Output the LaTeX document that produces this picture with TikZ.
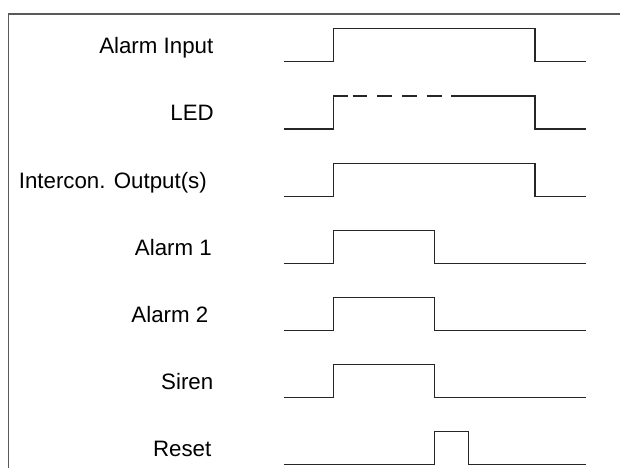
\documentclass[tikz,border=0pt]{standalone}
\usepackage{fontspec}
\setmainfont{Liberation Sans}
\begin{document}
\begin{tikzpicture}[x=1pt,y=-1pt,
  wave/.style={draw=black!85,line width=1.1pt,line join=miter},
  frameline/.style={draw=black!65,line width=1.3pt},
  lbl/.style={anchor=base east,inner sep=0pt,font=\fontsize{22.3}{26}\selectfont}]
\useasboundingbox (0,0) rectangle (620,468);
\fill[white] (0,0) rectangle (620,468);
\draw[frameline] (620,14) -- (8.5,14) -- (8.5,468);
% x positions
\def\xs{283.5}\def\xr{333.5}\def\xl{535}\def\xm{434.5}\def\xe{585.5}\def\xq{468.5}
% label nodes
\node[lbl] (l1) at (213.5,53.2) {Alarm Input};
\node[lbl] (l2) at (214,121) {LED};
\node[lbl] (l3) at (207,188.3) {Intercon. Output(s)};
\node[lbl] (l4) at (212,255.4) {Alarm 1};
\node[lbl] (l5) at (208.5,322.6) {Alarm 2};
\node[lbl] (l6) at (213.5,389.7) {Siren};
\node[lbl] (l7) at (211.5,456.7) {Reset};
% Alarm Input
\draw[wave] (\xs,61.7) -- (\xr,61.7) -- (\xr,28.7) -- (\xl,28.7) -- (\xl,61.7) -- (\xe,61.7);
% LED
\draw[wave] (\xs,129) -- (\xr,129) -- (\xr,96) -- (347.7,96);
\draw[wave,dash pattern=on 14.7pt off 10pt] (352.7,96) -- (446,96);
\draw[wave] (451,96) -- (\xl,96) -- (\xl,129) -- (\xe,129);
% Intercon
\draw[wave] (\xs,196.3) -- (\xr,196.3) -- (\xr,163.3) -- (\xl,163.3) -- (\xl,196.3) -- (\xe,196.3);
% Alarm 1
\draw[wave] (\xs,263.5) -- (\xr,263.5) -- (\xr,230.3) -- (\xm,230.3) -- (\xm,263.5) -- (\xe,263.5);
% Alarm 2
\draw[wave] (\xs,330.7) -- (\xr,330.7) -- (\xr,297.5) -- (\xm,297.5) -- (\xm,330.7) -- (\xe,330.7);
% Siren
\draw[wave] (\xs,397.7) -- (\xr,397.7) -- (\xr,364.3) -- (\xm,364.3) -- (\xm,397.7) -- (\xe,397.7);
% Reset
\draw[wave] (\xs,464.7) -- (\xm,464.7) -- (\xm,431.7) -- (\xq,431.7) -- (\xq,464.7) -- (\xe,464.7);
\end{tikzpicture}
\end{document}
